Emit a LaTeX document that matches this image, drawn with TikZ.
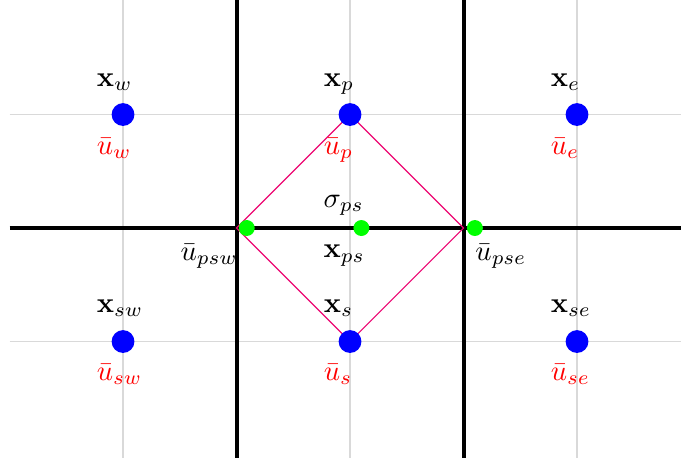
\documentclass[tikz,border=0pt]{standalone}
\usetikzlibrary{positioning}
\tikzset{
  gridline/.style={gray!30, line width=0.5pt},
  faceline/.style={black, line width=1.4pt},
  centrept/.style={circle, fill=blue, inner sep=0pt, minimum size=8pt},
  facept/.style={circle, fill=green, inner sep=0pt, minimum size=5.6pt},
  stencil/.style={magenta!75!red, line width=0.4pt},
  lbl/.style={anchor=base west, inner sep=0pt},
  vallbl/.style={lbl, text=red}
}

\begin{document}
\begin{tikzpicture}[x=1.4cm, y=1.4cm]
  \useasboundingbox (-3.084,-2.026) rectangle (2.916,2.009);
  % thin lines through the cell centres
  \foreach \x in {-2,0,2} \draw[gridline] (\x,-2.1) -- (\x,2.1);
  \foreach \y in {-1,1} \draw[gridline] (-3,\y) -- (3,\y);
  % cell faces
  \draw[faceline] (-1,-2.1) -- (-1,2.1);
  \draw[faceline] (1,-2.1) -- (1,2.1);
  \draw[faceline] (-3,0) -- (3,0);
  % corners of the face stencil
  \coordinate (cp) at (0,1);
  \coordinate (cs) at (0,-1);
  \coordinate (psw) at (-1,0);
  \coordinate (pse) at (1,0);
  % stencil
  \draw[stencil] (cp) -- (pse) -- (cs) -- (psw) -- cycle;
  % cell centres
  \node[centrept] (w) at (-2,1) {};
  \node[centrept] (p) at (cp) {};
  \node[centrept] (e) at (2,1) {};
  \node[centrept] (sw) at (-2,-1) {};
  \node[centrept] (s) at (cs) {};
  \node[centrept] (se) at (2,-1) {};
  % face points
  \node[facept] (fpsw) at (-0.91,0) {};
  \node[facept] (fps) at (0.1,0) {};
  \node[facept] (fpse) at (1.1,0) {};
  % labels
  \node[lbl] (xw) at (-2.235,1.247) {$\mathbf{x}_w$};
  \node[lbl] (xp) at (-0.235,1.247) {$\mathbf{x}_p$};
  \node[lbl] (xe) at (1.765,1.247) {$\mathbf{x}_e$};
  \node[vallbl] (uw) at (-2.235,0.65) {$\bar{u}_w$};
  \node[vallbl] (up) at (-0.235,0.65) {$\bar{u}_p$};
  \node[vallbl] (ue) at (1.765,0.65) {$\bar{u}_e$};
  \node[lbl] (xsw) at (-2.235,-0.745) {$\mathbf{x}_{sw}$};
  \node[lbl] (xs) at (-0.235,-0.745) {$\mathbf{x}_s$};
  \node[lbl] (xse) at (1.765,-0.745) {$\mathbf{x}_{se}$};
  \node[vallbl] (usw) at (-2.235,-1.345) {$\bar{u}_{sw}$};
  \node[vallbl] (us) at (-0.235,-1.345) {$\bar{u}_s$};
  \node[vallbl] (use) at (1.765,-1.345) {$\bar{u}_{se}$};
  \node[lbl] (sigps) at (-0.238,0.185) {$\sigma_{ps}$};
  \node[lbl] (xps) at (-0.238,-0.264) {$\mathbf{x}_{ps}$};
  \node[lbl] (upsw) at (-1.498,-0.282) {$\bar{u}_{psw}$};
  \node[lbl] (upse) at (1.10,-0.282) {$\bar{u}_{pse}$};
\end{tikzpicture}
\end{document}
